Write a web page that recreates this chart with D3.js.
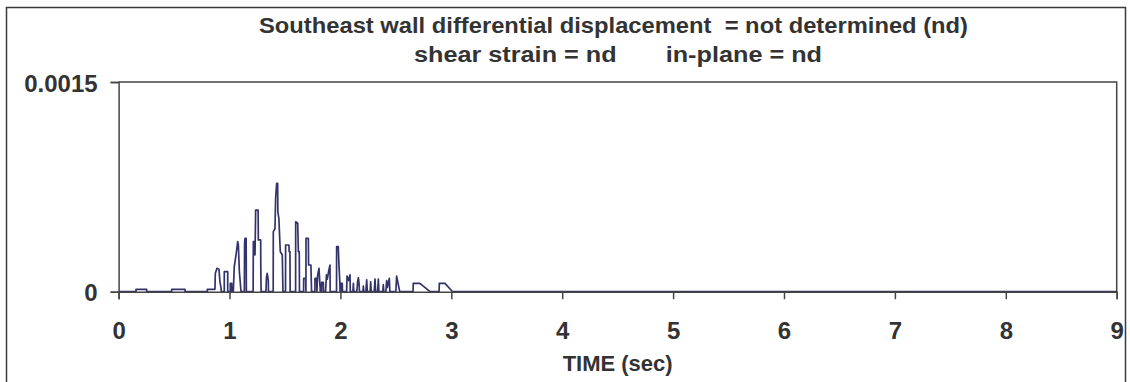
<!DOCTYPE html>
<html>
<head>
<meta charset="utf-8">
<script src="https://cdn.jsdelivr.net/npm/d3@7"></script>
<style>
  html, body { margin: 0; padding: 0; background: #fff; }
  svg { display: block; }
  text { font-family: "Liberation Sans", Arial, sans-serif; font-weight: bold; fill: #333; }
</style>
</head>
<body>
<svg id="chart" width="1130" height="382"></svg>
<script>
// ---------- data ----------
const titleLine1 = "Southeast wall differential displacement  = not determined (nd)";
const titleLine2 = "shear strain = nd       in-plane = nd";
const xAxisTitle = "TIME (sec)";
const xTickValues = [0, 1, 2, 3, 4, 5, 6, 7, 8, 9];
const yTickValues = [0, 0.0015];
const yTickLabels = ["0", "0.0015"];

// time (sec) and differential displacement trace
const time = [
  0, 0.157, 0.157, 0.253, 0.253, 0.479, 0.479, 0.599, 0.599, 0.80, 0.80, 0.869,
  0.872, 0.887, 0.905, 0.914, 0.923, 0.926,
  0.953, 0.953, 0.984, 0.984,
  1.007, 1.007, 1.02, 1.02,
  1.034, 1.043, 1.059, 1.074, 1.08, 1.089, 1.104,
  1.134, 1.136, 1.14, 1.15, 1.152,
  1.213, 1.215, 1.228, 1.23, 1.236, 1.24, 1.258, 1.26, 1.281, 1.282, 1.285,
  1.329, 1.333, 1.34, 1.35, 1.351,
  1.394, 1.395, 1.41, 1.416, 1.425, 1.434, 1.436, 1.445, 1.458, 1.476, 1.482,
  1.505, 1.506, 1.536, 1.538, 1.545, 1.547,
  1.596, 1.597, 1.615, 1.621, 1.629, 1.631,
  1.668, 1.669, 1.687, 1.689, 1.690, 1.711, 1.713, 1.734, 1.74,
  1.770, 1.771, 1.786, 1.788, 1.795, 1.807, 1.819,
  1.830, 1.831, 1.846, 1.848,
  1.866, 1.874, 1.882, 1.895, 1.906, 1.908,
  1.965, 1.966, 1.981, 1.987, 1.995, 1.997,
  2.004, 2.005, 2.017, 2.019,
  2.056, 2.060, 2.075, 2.087, 2.089,
  2.113, 2.117, 2.121,
  2.148, 2.155, 2.162, 2.168, 2.172,
  2.203, 2.207, 2.211,
  2.230, 2.237, 2.243,
  2.268, 2.273, 2.278,
  2.305, 2.312, 2.318,
  2.336, 2.342, 2.347,
  2.382, 2.387, 2.391,
  2.410, 2.417, 2.423, 2.441, 2.446,
  2.500, 2.507, 2.52, 2.535,
  2.655, 2.657, 2.717, 2.808,
  2.890, 2.892, 2.943, 3.012,
  9
];
const disp = [
  0, 0, 1.7e-5, 1.7e-5, 0, 0, 1.7e-5, 1.7e-5, 0, 0, 1.7e-5, 1.7e-5,
  1.3e-4, 1.67e-4, 1.6e-4, 7e-5, 3e-5, 0,
  0, 1.43e-4, 1.43e-4, 0,
  0, 6e-5, 6e-5, 0,
  0, 1.79e-4, 2.63e-4, 3.58e-4, 3.34e-4, 1.43e-4, 0,
  0, 3.5e-4, 3.82e-4, 3.82e-4, 0,
  0, 3.58e-4, 3.58e-4, 2.63e-4, 5.84e-4, 5.84e-4, 5.84e-4, 3.7e-4, 3.7e-4, 1.9e-4, 0,
  0, 1.0e-4, 1.31e-4, 8e-5, 0,
  0, 4.3e-4, 4.5e-4, 6.68e-4, 7.75e-4, 7.75e-4, 5.72e-4, 5.25e-4, 2.86e-4, 2.63e-4, 0,
  0, 3.34e-4, 3.34e-4, 2.86e-4, 2.86e-4, 0,
  0, 5.0e-4, 4.9e-4, 2.86e-4, 2.86e-4, 0,
  0, 9.6e-5, 9.6e-5, 0, 3.82e-4, 3.82e-4, 1.91e-4, 1.91e-4, 0,
  0, 9.6e-5, 9.6e-5, 0, 1.2e-4, 1.67e-4, 0,
  0, 6.7e-5, 6.7e-5, 0,
  0, 1.2e-4, 9e-5, 1.5e-4, 1.9e-4, 0,
  0, 3.22e-4, 3.22e-4, 1.91e-4, 6.7e-5, 0,
  0, 6e-5, 6e-5, 0,
  0, 1.12e-4, 8e-5, 1.2e-4, 0,
  0, 6e-5, 0,
  0, 7e-5, 1.0e-4, 6e-5, 0,
  0, 4e-5, 0,
  0, 8.5e-5, 0,
  0, 7e-5, 0,
  0, 9e-5, 0,
  0, 9e-5, 0,
  0, 5e-5, 0,
  0, 8e-5, 3e-5, 9.5e-5, 0,
  0, 1.12e-4, 6e-5, 0,
  0, 6e-5, 6e-5, 0,
  0, 6e-5, 6e-5, 0,
  0
];

// ---------- drawing ----------
const svg = d3.select("#chart");
const plot = { left: 118.6, right: 1116.7, top: 82, bottom: 291.7 };

const x = d3.scaleLinear().domain([0, 9]).range([plot.left, plot.right]);
const y = d3.scaleLinear().domain([0, 0.0015]).range([plot.bottom, plot.top]);

// outer chart border
svg.append("rect")
  .attr("x", 6.5).attr("y", 7.5)
  .attr("width", 1119).attr("height", 385)
  .attr("fill", "none").attr("stroke", "#3a3a3a").attr("stroke-width", 1.5);

// plot area border (top & right)
svg.append("path")
  .attr("d", `M${plot.left},${plot.top}H${plot.right}V${plot.bottom}`)
  .attr("fill", "none").attr("stroke", "#444").attr("stroke-width", 1.5);

// trace
const pts = time.map((t, i) => [t, disp[i]]);
svg.append("path")
  .datum(pts)
  .attr("fill", "none")
  .attr("stroke", "#33336b")
  .attr("stroke-width", 1.7)
  .attr("stroke-linejoin", "round")
  .attr("d", d3.line().x(d => x(d[0])).y(d => y(d[1])));

// x axis
const xAxis = svg.append("g")
  .attr("transform", `translate(0,${plot.bottom})`)
  .call(d3.axisBottom(x).tickValues(xTickValues).tickSize(7.5).tickPadding(22.5).tickFormat(d3.format("d")));
xAxis.attr("font-family", null);
xAxis.select(".domain").attr("stroke", "#444").attr("stroke-width", 1.5);
xAxis.selectAll(".tick line").attr("stroke", "#444").attr("stroke-width", 1.5);
xAxis.selectAll("text").attr("font-size", 24).attr("fill", "#333");

// y axis
const yAxis = svg.append("g")
  .attr("transform", `translate(${plot.left},0)`)
  .call(d3.axisLeft(y).tickValues(yTickValues).tickSize(8).tickPadding(13)
    .tickFormat((d, i) => yTickLabels[i]));
yAxis.attr("font-family", null);
yAxis.select(".domain").attr("stroke", "#444").attr("stroke-width", 1.5);
yAxis.selectAll(".tick line").attr("stroke", "#444").attr("stroke-width", 1.5);
yAxis.selectAll("text").attr("font-size", 24).attr("fill", "#333").attr("dy", "0.38em");

// titles
svg.append("text").attr("x", 259).attr("y", 33)
  .attr("font-size", 22.5).style("white-space", "pre")
  .attr("textLength", 709).attr("lengthAdjust", "spacingAndGlyphs")
  .text(titleLine1);
svg.append("text").attr("x", 414).attr("y", 62)
  .attr("font-size", 22.5).style("white-space", "pre")
  .attr("textLength", 408).attr("lengthAdjust", "spacingAndGlyphs")
  .text(titleLine2);

// x axis title
svg.append("text").attr("x", (plot.left + plot.right) / 2).attr("y", 371).attr("text-anchor", "middle")
  .attr("font-size", 22).text(xAxisTitle);
</script>
</body>
</html>
